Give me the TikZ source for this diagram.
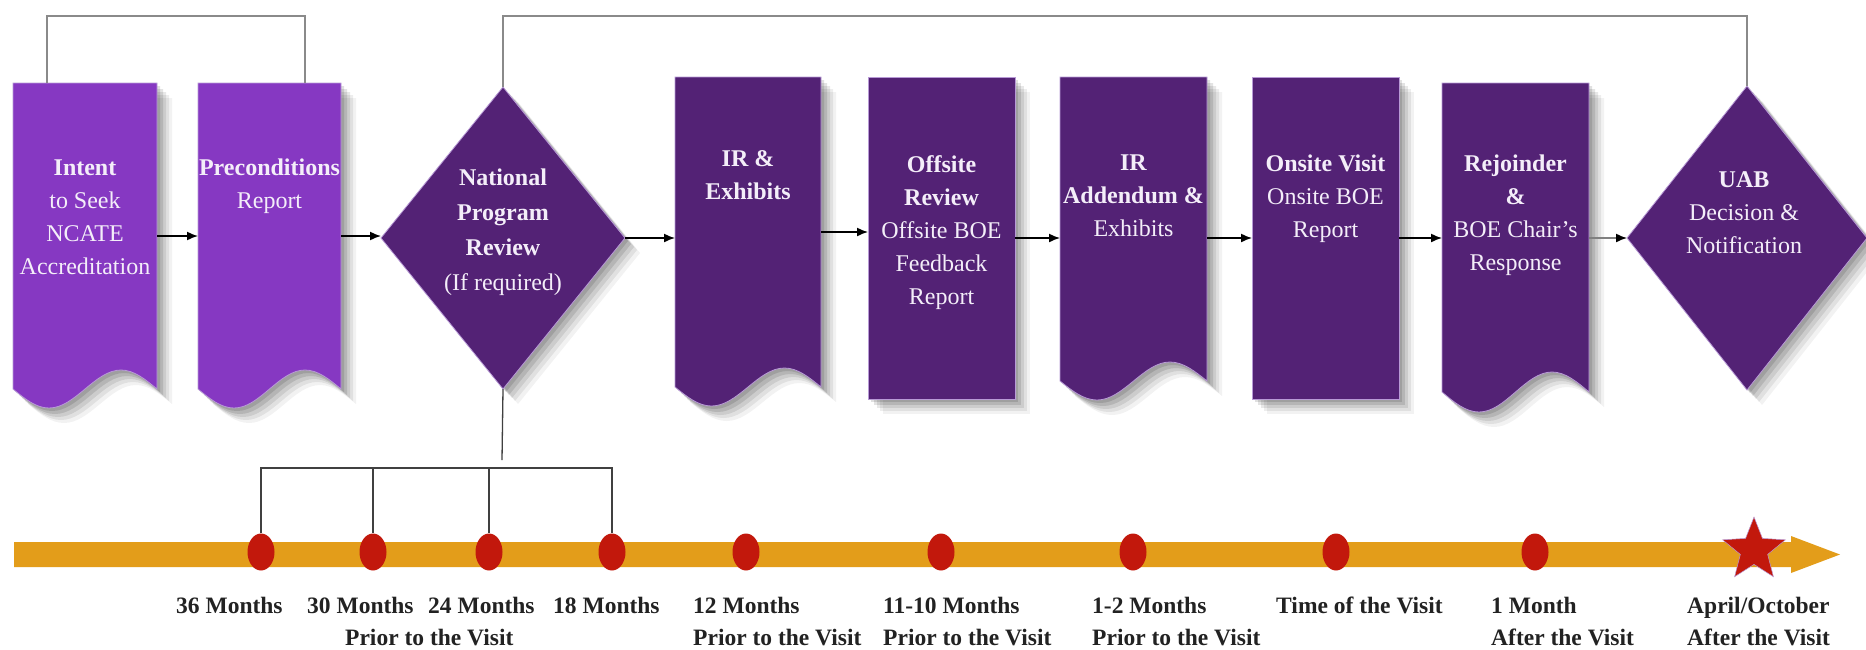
\documentclass[tikz,border=0pt]{standalone}
\usepackage{fontspec}
\setmainfont{Liberation Serif}
\usetikzlibrary{arrows.meta,shapes.geometric,shapes.misc,shadows}
\definecolor{lightpurple}{HTML}{8638C2}
\definecolor{darkpurple}{HTML}{532275}
\definecolor{boxtext}{HTML}{F4EEF9}
\definecolor{edgepurple}{HTML}{B89AD6}
\definecolor{barorange}{HTML}{E39D1A}
\definecolor{dotred}{HTML}{C2180C}
\definecolor{linkgray}{HTML}{8A8A8A}
\definecolor{labeltext}{HTML}{222222}
\begin{document}
\begin{tikzpicture}[x=1pt,y=-1pt,
  softshadow/.style={
    general shadow={shadow xshift=3pt,shadow yshift=-3pt,fill=black,opacity=.12},
    general shadow={shadow xshift=6pt,shadow yshift=-6pt,fill=black,opacity=.11},
    general shadow={shadow xshift=9pt,shadow yshift=-9pt,fill=black,opacity=.09},
    general shadow={shadow xshift=12pt,shadow yshift=-12pt,fill=black,opacity=.07},
    general shadow={shadow xshift=15pt,shadow yshift=-15pt,fill=black,opacity=.05}},
  lightbox/.style={fill=lightpurple, draw=edgepurple, line width=0.8pt, softshadow},
  darkbox/.style={fill=darkpurple, draw=edgepurple, line width=0.8pt, softshadow},
  frame/.style={draw=none, inner sep=0pt, outer sep=0pt},
  decision/.style={diamond, fill=darkpurple, draw=edgepurple, line width=0.8pt, inner sep=0pt, outer sep=0pt, softshadow},
  boxlabel/.style={text=boxtext, align=center, inner sep=0pt, font=\rmfamily\fontsize{24}{33}\selectfont},
  flow/.style={draw=black, line width=1.5pt, -{Latex[length=11pt,width=9pt]}},
  link/.style={draw=linkgray, line width=1.2pt},
  tick/.style={draw=black!75, line width=1.3pt},
  dot/.style={ellipse, fill=dotred, draw=none, minimum width=27pt, minimum height=37pt, inner sep=0pt},
  when/.style={text=labeltext, align=left, anchor=north west, inner sep=0pt, font=\rmfamily\fontsize{23.5}{32}\selectfont\bfseries}
]
\useasboundingbox (0,0) rectangle (1866,649);
\fill[white] (0,0) rectangle (1866,649);

% ---- box shapes ----
\path[lightbox] (13,83) -- (157,83) -- (157,389) sin (121,370) cos (85,389) sin (49,408) cos (13,389) -- cycle;
\path[lightbox] (198,83) -- (341,83) -- (341,389) sin (305,370) cos (269.5,389) sin (234,408) cos (198,389) -- cycle;
\path[darkbox] (675,77) -- (821,77) -- (821,387) sin (784.5,368) cos (748,387) sin (711.5,406) cos (675,387) -- cycle;
\path[darkbox] (868,77) rectangle (1015,399);
\path[darkbox] (1060,77) -- (1207,77) -- (1207,381) sin (1170,362) cos (1133.5,381) sin (1097,400) cos (1060,381) -- cycle;
\path[darkbox] (1252,77) rectangle (1399,399);
\path[darkbox] (1442,83) -- (1589,83) -- (1589,392) sin (1552,372) cos (1515.5,392) sin (1479,412) cos (1442,392) -- cycle;

% ---- frames (anchors) ----
\node[frame, minimum width=144pt, minimum height=306pt] (intent) at (85,236) {};
\node[frame, minimum width=143pt, minimum height=306pt] (pre) at (269.5,236) {};
\node[frame, minimum width=146pt, minimum height=310pt] (ir) at (748,232) {};
\node[frame, minimum width=147pt, minimum height=322pt] (offsite) at (941.5,238) {};
\node[frame, minimum width=147pt, minimum height=322pt] (iradd) at (1133.5,238) {};
\node[frame, minimum width=147pt, minimum height=322pt] (onsite) at (1325.5,238) {};
\node[frame, minimum width=147pt, minimum height=310pt] (rej) at (1515.5,238) {};
\node[decision, minimum width=244pt, minimum height=302pt] (nr) at (503,238) {};
\node[decision, minimum width=240pt, minimum height=304pt] (uab) at (1747,238) {};

% ---- texts ----
\node[boxlabel, anchor=north] (intentT) at (85,160) {\textbf{Intent}\\to Seek\\NCATE\\Accreditation};
\node[boxlabel, anchor=north] (preT) at (269.5,159) {\textbf{Preconditions}\\Report};
\node[boxlabel, font=\rmfamily\fontsize{24}{35}\selectfont] (nrT) at (503,232) {\textbf{National}\\\textbf{Program}\\\textbf{Review}\\(If required)};
\node[boxlabel, anchor=north] (irT) at (748,150) {\textbf{IR \&}\\\textbf{Exhibits}};
\node[boxlabel, anchor=north] (offT) at (941.5,155) {\textbf{Offsite}\\\textbf{Review}\\Offsite BOE\\Feedback\\Report};
\node[boxlabel, anchor=north] (iraT) at (1133.5,155) {\textbf{IR}\\\textbf{Addendum \&}\\Exhibits};
\node[boxlabel, anchor=north] (onT) at (1325.5,155) {\textbf{Onsite Visit}\\Onsite BOE\\Report};
\node[boxlabel, anchor=north] (rejT) at (1515.5,155) {\textbf{Rejoinder}\\\textbf{\&}\\BOE Chair's\\Response};
\node[boxlabel] (uabT) at (1744,213) {\textbf{UAB}\\Decision \&\\Notification};

% ---- flow arrows ----
\draw[flow] (intent.east) -- (pre.west);
\draw[flow] (pre.east) -- (pre.east -| nr.west);
\draw[flow] (nr.east) -- (nr.east -| ir.west);
\draw[flow] (ir.east) -- (ir.east -| offsite.west);
\draw[flow] (offsite.east) -- (iradd.west);
\draw[flow] (iradd.east) -- (onsite.west);
\draw[flow] (onsite.east) -- (rej.west);
\draw[flow, draw=black!50, -{Latex[length=11pt,width=9pt,color=black]}] (rej.east) -- (uab.west);

% ---- top links ----
\coordinate (t1) at (47,16);
\coordinate (t2) at (305,16);
\coordinate (t3) at (503,16);
\draw[link] (t1 |- intent.north) -- (t1) -- (t2) -- (t2 |- pre.north);
\draw[link] (nr.north) -- (nr.north |- t3) -- (uab.north |- t3) -- (uab.north);

% ---- timeline ----
\fill[barorange] (14,542) -- (1791,542) -- (1791,536) -- (1840,554.5) -- (1791,573) -- (1791,567) -- (14,567) -- cycle;
\node[dot] (d1) at (261,552) {};
\node[dot] (d2) at (373,552) {};
\node[dot] (d3) at (489,552) {};
\node[dot] (d4) at (612,552) {};
\node[dot] (d5) at (746,552) {};
\node[dot] (d6) at (941,552) {};
\node[dot] (d7) at (1133,552) {};
\node[dot] (d8) at (1336,552) {};
\node[dot] (d9) at (1535,552) {};
\node[star, star points=5, star point ratio=2.3, fill=dotred, draw=edgepurple, line width=0.5pt, minimum size=66pt, inner sep=0pt] (goal) at (1754,550) {};

% ---- bracket below national review ----
\coordinate (brk) at (502,460);
\coordinate (bl) at (261,468);
\draw[tick] (nr.south) -- (brk);
\draw[tick] (d1.north) -- (d1 |- bl) -- (d4 |- bl) -- (d4.north);
\draw[tick] (d2 |- bl) -- (d2.north);
\draw[tick] (d3 |- bl) -- (d3.north);

% ---- timeline labels ----
\node[when] (l1) at (176,597) {36 Months};
\node[when] (l2) at (307,597) {30 Months};
\node[when] (l3) at (428,597) {24 Months};
\node[when] (l4) at (553,597) {18 Months};
\node[when] (l5) at (345,629) {Prior to the Visit};
\node[when] (l6) at (693,597) {12 Months\\Prior to the Visit};
\node[when] (l7) at (883,597) {11-10 Months\\Prior to the Visit};
\node[when] (l8) at (1092,597) {1-2 Months\\Prior to the Visit};
\node[when] (l9) at (1276,597) {Time of the Visit};
\node[when] (l10) at (1491,597) {1 Month\\After the Visit};
\node[when] (l11) at (1687,597) {April/October\\After the Visit};
\end{tikzpicture}
\end{document}
